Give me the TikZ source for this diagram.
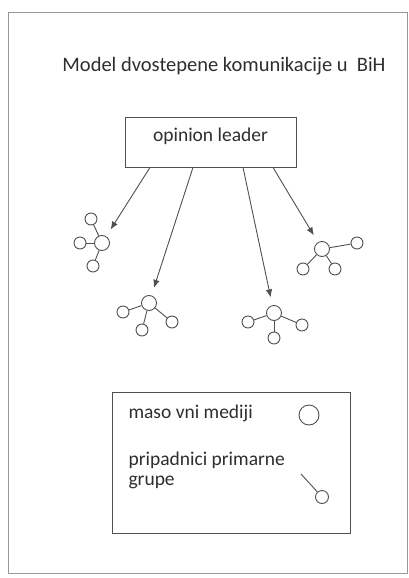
\documentclass[tikz,border=0pt]{standalone}
\usepackage{fontspec}
\setmainfont{Carlito}
\usepackage{tikz}
\usetikzlibrary{arrows.meta,positioning}

\definecolor{inkgray}{HTML}{2E2E2E}
\definecolor{linegray}{HTML}{505050}
\definecolor{framegray}{HTML}{9A9A9A}

\begin{document}
\begin{tikzpicture}[
        x=10pt, y=10pt,
        font=\fontsize{19.5}{20}\selectfont,
        text=inkgray,
        leaderbox/.style={
            draw=linegray,
            line width=0.9pt,
            minimum width=171pt,
            minimum height=50pt,
            text height=13pt,
            text depth=14pt
        },
        legendbox/.style={
            draw=linegray,
            line width=0.9pt,
            minimum width=238pt,
            minimum height=141pt
        },
        hub/.style={
            circle,
            draw=linegray,
            line width=0.9pt,
            inner sep=0pt,
            minimum size=15pt
        },
        member/.style={
            circle,
            draw=linegray,
            line width=0.9pt,
            inner sep=0pt,
            minimum size=12pt
        },
        link/.style={draw=linegray, line width=0.9pt},
        arrow/.style={-{Latex[length=8pt,width=6.5pt]}, draw=linegray, line width=0.9pt, shorten >=8pt}
    ]
        \useasboundingbox (0,0) rectangle (40.9,-57.8);
        \draw[framegray, line width=1pt] (0.8,-1.3) rectangle (40.7,-57.3);

        \node[font=\fontsize{20.5}{22}\selectfont] (title) at (22.4,-6.6) {Model dvostepene komunikacije u\ \ BiH};
        \node[leaderbox] (leader) at (21.05,-14.2) {opinion leader};

        % groups around the opinion leader
        \foreach \hub/\x/\y in {g1/10.2/24.3, g2/14.9/30.3, g3/27.4/31.3, g4/32.2/24.9} {
            \node[hub] (\hub) at (\x,-\y) {};
        }
        \foreach \sat/\hub/\x/\y in {g1a/g1/9.1/21.9, g1b/g1/8.0/24.3, g1c/g1/9.3/26.6,
                g2a/g2/12.3/31.2, g2b/g2/14.2/33.0, g2c/g2/17.2/32.2,
                g3a/g3/24.8/32.2, g3b/g3/27.4/33.8, g3c/g3/30.2/32.5,
                g4a/g4/35.7/24.3, g4b/g4/30.3/26.9, g4c/g4/33.5/26.9} {
            \node[member] (\sat) at (\x,-\y) {};
            \draw[link] (\hub) -- (\sat);
        }
        \foreach \shift/\target in {-60.5pt/g1, -17.5pt/g2, 32.5pt/g3, 62.5pt/g4} {
            \draw[arrow] ([xshift=\shift]leader.south) -- (\target);
        }

        % legend
        \node[legendbox] (legend) at (23.1,-46.25) {};
        \node[anchor=west] (mediatext) at (12.5,-41.3) {maso vni mediji};
        \node[member, minimum size=20pt] (mediakey) at (30.9,-41.5) {};
        \node[anchor=west, align=left] (grouptext) at (12.5,-47.0) {pripadnici primarne\\grupe};
        \coordinate (keytail) at (30.1,-47.4);
        \node[member, minimum size=13pt] (memberkey) at (32.2,-49.7) {};
        \draw[link] (keytail) -- (memberkey);
    \end{tikzpicture}
\end{document}
